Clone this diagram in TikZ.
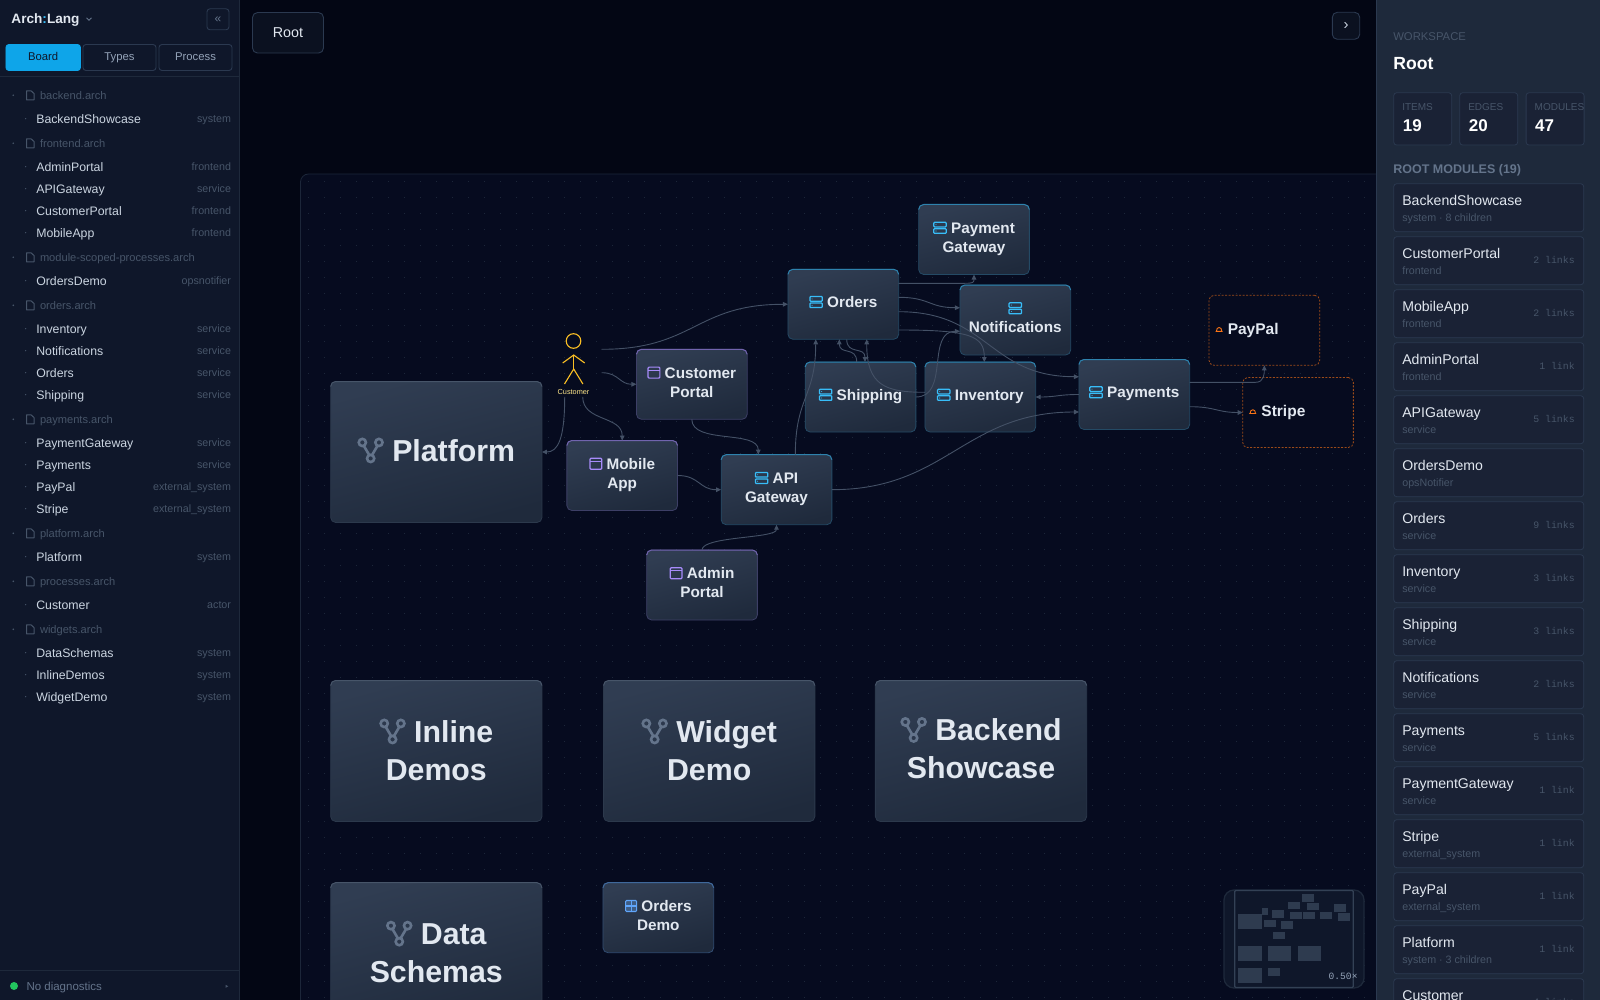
\documentclass[tikz,border=0pt]{standalone}
\usepackage{fontspec}
\setmainfont{Liberation Sans}
\setmonofont{Liberation Mono}
\usetikzlibrary{positioning, arrows.meta, calc}

% palette
\definecolor{sidebg}{HTML}{0F172A}
\definecolor{sideline}{HTML}{1E293B}
\definecolor{canvasbg}{HTML}{030614}
\definecolor{boardbg}{HTML}{060B1F}
\definecolor{griddot}{HTML}{1C2639}
\definecolor{panelbg}{HTML}{1E293B}
\definecolor{cardbg}{HTML}{1A2235}
\definecolor{cardline}{HTML}{2B3950}
\definecolor{btnbg}{HTML}{0B1120}
\definecolor{blocktop}{HTML}{303D52}
\definecolor{blockbot}{HTML}{1F2A3C}
\definecolor{linkline}{HTML}{445166}
\definecolor{slateA}{HTML}{334155}
\definecolor{slateC}{HTML}{475569}
\definecolor{slateD}{HTML}{64748B}
\definecolor{slateE}{HTML}{94A3B8}
\definecolor{slateF}{HTML}{CBD5E1}
\definecolor{slateG}{HTML}{E2E8F0}
\definecolor{skyblue}{HTML}{38BDF8}
\definecolor{tabblue}{HTML}{0EA5E9}
\definecolor{violet}{HTML}{A78BFA}
\definecolor{gridblue}{HTML}{60A5FA}
\definecolor{cloudorange}{HTML}{F97316}
\definecolor{actoramber}{HTML}{FBBF24}
\definecolor{actorpale}{HTML}{FDE68A}
\definecolor{okgreen}{HTML}{22C55E}

\newcommand{\fs}[1]{\fontsize{#1}{#1}\selectfont}

% inline icons
\newcommand{\serviceicon}{\tikz[baseline=0pt,x=1pt,y=1pt]{
    \draw[skyblue, line width=1.25pt, rounded corners=0.8pt] (0,0) rectangle (12.4,4.6);
    \draw[skyblue, line width=1.25pt, rounded corners=0.8pt] (0,6.4) rectangle (12.4,11);
    \fill[skyblue] (2.2,2.3) circle (0.55) (2.2,8.7) circle (0.55);
}}
\newcommand{\windowicon}{\tikz[baseline=0pt,x=1pt,y=1pt]{
    \draw[violet, line width=1.2pt, rounded corners=1pt] (0,0) rectangle (11.8,11);
    \draw[violet, line width=1.2pt] (0,8) -- (11.8,8);
}}
\newcommand{\gridicon}{\tikz[baseline=0pt,x=1pt,y=1pt]{
    \draw[gridblue, fill=gridblue!30!blocktop, line width=1.1pt, rounded corners=1pt] (0,0) rectangle (11,11);
    \draw[gridblue, line width=1.1pt] (5.5,0) -- (5.5,11) (0,5.5) -- (11,5.5);
}}
\newcommand{\forkicon}{\tikz[baseline=2pt,x=1pt,y=1pt]{
    \draw[slateD, line width=2.6pt] (4.7,21) circle (3.6) (21.3,21) circle (3.6) (13,5) circle (3.6);
    \draw[slateD, line width=2.6pt] (6.2,17.6) -- (11.6,8.4) (19.8,17.6) -- (14.4,8.4);
}}
\newcommand{\cloudicon}{\tikz[baseline=-3pt,x=1pt,y=1pt]{
    \draw[cloudorange, line width=0.9pt, line cap=round] (0,0) -- (6.4,0) (0.5,0) .. controls (0.2,5) and (6.2,5) .. (5.9,0);
}}

\begin{document}
\begin{tikzpicture}[
    x=1pt, y=-1pt,
    txt/.style={inner sep=0pt, outer sep=0pt},
    treefile/.style={txt, anchor=mid west, text=slateC, font=\fs{11.1}},
    treeitem/.style={txt, anchor=mid west, text=slateF, font=\fs{12.3}},
    treekind/.style={txt, anchor=mid east, text=slateC, font=\fs{10.7}},
    tabbox/.style={rectangle, rounded corners=3pt, draw=cardline, line width=0.9pt, fill=sidebg,
        minimum width=73pt, minimum height=26pt, inner sep=0pt, text height=8.4pt, text depth=2.6pt,
        text=slateE, font=\fs{11.3}},
    ghostbtn/.style={rectangle, rounded corners=5pt, draw=cardline, line width=0.9pt, fill=btnbg,
        inner sep=0pt, text=slateG},
    block/.style={rectangle, rounded corners=5pt, outer sep=0pt, inner sep=0pt, align=center,
        minimum width=110.7pt, minimum height=70pt, text=slateG, text depth=5pt,
        top color=blocktop, bottom color=blockbot, shading angle=15,
        font=\bfseries\fontsize{15.3}{19}\selectfont},
    service/.style={block, draw=skyblue!22!blockbot, line width=0.8pt},
    frontend/.style={block, draw=violet!22!blockbot, line width=0.8pt},
    demo/.style={block, draw=gridblue!28!blockbot, line width=0.8pt},
    system/.style={block, draw=slateA!65!blockbot, line width=0.8pt, minimum width=211.3pt, minimum height=141pt,
        text depth=3pt, font=\bfseries\fontsize{30.3}{38}\selectfont},
    external/.style={rectangle, rounded corners=5pt, outer sep=0pt, inner xsep=6.5pt, inner ysep=0pt,
        minimum height=70pt, text width=97.7pt, align=left, fill=boardbg, text=slateG,
        draw=cloudorange!62!boardbg, line width=0.8pt, dash pattern=on 2pt off 1.5pt,
        font=\bfseries\fs{15.5}},
    accent/.style={line width=1pt, rounded corners=5pt},
    arrow/.style={draw=linkline, line width=0.9pt, -{Stealth[length=5pt, width=4.6pt, inset=0pt]}},
    statbox/.style={rectangle, rounded corners=3pt, draw=cardline, line width=0.8pt, fill=cardbg,
        minimum width=58pt, minimum height=52.4pt, inner sep=0pt},
    cardbox/.style={rectangle, rounded corners=3pt, draw=cardline, line width=0.8pt, fill=cardbg,
        minimum width=190pt, minimum height=48pt, inner sep=0pt},
    cardname/.style={txt, anchor=mid west, text=slateG, font=\fs{14.1}},
    cardsub/.style={txt, anchor=mid west, text=slateC, font=\fs{10.7}},
    cardlinks/.style={txt, anchor=mid east, text=slateC, font=\ttfamily\fs{9.85}},
    statlabel/.style={txt, anchor=mid west, text=slateC, font=\fs{10}},
    statnum/.style={txt, anchor=mid west, text=white, font=\bfseries\fs{17}},
    mini/.style={fill=slateA!85!sidebg}
]

\useasboundingbox (0,0) rectangle (1600,1000);
\clip (0,0) rectangle (1600,1000);

% === Canvas ===
\fill[canvasbg] (0,0) rectangle (1600,1000);
\filldraw[boardbg, draw=griddot, line width=0.8pt, rounded corners=8pt] (300.5,174) rectangle (1420,1040);
\foreach \gx in {0,...,66}
    \foreach \gy in {0,...,51}
        \fill[griddot] ({308.3+16*\gx-0.5},{181.7+16*\gy-0.5}) rectangle ++(1,1);

% === Module blocks ===
\node[system, text depth=5pt] (platform) at (436.3,452) {\forkicon\ Platform};
\node[system] (inline) at (436.3,751) {\forkicon\ Inline\\Demos};
\node[system] (widget) at (709.2,751) {\forkicon\ Widget\\Demo};
\node[system, text depth=6pt] (backend) at (981,751) {\forkicon\ Backend\\Showcase};
\node[system] (schemas) at (436.3,953.2) {\forkicon\ Data\\Schemas};
\node[demo] (ordersdemo) at (658.3,917.7) {\gridicon\ Orders\\Demo};

\node[frontend] (custportal) at (691.8,384.3) {\windowicon\ Customer\\Portal};
\node[frontend] (mobileapp) at (622.2,475.5) {\windowicon\ Mobile\\App};
\node[frontend] (adminportal) at (702,585) {\windowicon\ Admin\\Portal};

\node[service] (apigateway) at (776.5,489.7) {\serviceicon\ API\\Gateway};
\node[service] (orders) at (843.3,304.3) {\serviceicon\ Orders};
\node[service] (shipping) at (860.5,397) {\serviceicon\ Shipping};
\node[service] (inventory) at (980.3,397) {\serviceicon\ Inventory};
\node[service] (paygateway) at (974,239.5) {\serviceicon\ Payment\\Gateway};
\node[service] (notifications) at (1015.3,320) {\serviceicon\\Notifications};
\node[service] (payments) at (1134.3,394.5) {\serviceicon\ Payments};

\node[external] (paypal) at (1264.3,330.3) {\cloudicon\hspace{5pt}PayPal};
\node[external] (stripe) at (1298,412.5) {\cloudicon\hspace{5pt}Stripe};

% top edges of the blocks
\foreach \n in {apigateway,orders,shipping,inventory,paygateway,notifications,payments}
    \draw[accent, skyblue!60!blockbot] ([yshift=-5pt]\n.north west) -- (\n.north west) -- (\n.north east) -- ([yshift=-5pt]\n.north east);
\foreach \n in {custportal,mobileapp,adminportal}
    \draw[accent, violet!60!blockbot] ([yshift=-5pt]\n.north west) -- (\n.north west) -- (\n.north east) -- ([yshift=-5pt]\n.north east);
\foreach \n in {platform,inline,widget,backend,schemas}
    \draw[accent, slateC] ([yshift=-5pt]\n.north west) -- (\n.north west) -- (\n.north east) -- ([yshift=-5pt]\n.north east);
\draw[accent, gridblue!50!blockbot] ([yshift=-5pt]ordersdemo.north west) -- (ordersdemo.north west) -- (ordersdemo.north east) -- ([yshift=-5pt]ordersdemo.north east);

% === Actor ===
\node[rectangle, minimum width=56pt, minimum height=67pt, inner sep=0pt, outer sep=0pt] (customer) at (573.7,363.3) {};
\begin{scope}[shift={(customer.center)}, actoramber, line width=1.1pt]
    \draw (-0.2,-22.3) circle (7.3);
    \draw (0,-8.3) -- (0,5.7);
    \draw (-11,-0.3) -- (0,-8.3) -- (11,-0.3);
    \draw (-9.2,20.7) -- (0,5.7) -- (9.2,20.7);
\end{scope}
\node[txt, anchor=mid, text=actorpale, font=\fs{7.3}] (custlabel) at (573.5,391.5) {Customer};

% === Connectors ===
\draw[arrow] ($(customer.east)+(0,-14)$) .. controls +(93,0) and +(-93,0) .. (orders.west);
\draw[arrow] ($(customer.east)+(0,9.4)$) .. controls +(17,0) and +(-17,0) .. (custportal.west);
\draw[arrow] ($(customer.south)+(9,0)$) .. controls +(0,25) and +(0,-25) .. (mobileapp.north);
\draw[arrow] ($(customer.south)+(-9,0)$) .. controls +(0,42) and +(16,0) .. (platform.east);
\draw[arrow] (custportal.south) .. controls +(0,25) and +(0,-25) .. ($(apigateway.north)+(-18.2,0)$);
\draw[arrow] (mobileapp.east) .. controls +(22,0) and +(-22,0) .. (apigateway.west);
\draw[arrow] ($(apigateway.north)+(18.8,0)$) .. controls +(0,-58) and +(0,58) .. ($(orders.south)+(-27.6,0)$);
\draw[arrow] (apigateway.east) .. controls +(115,0) and +(-115,0) .. ($(payments.west)+(0,17.5)$);
\draw[arrow] (adminportal.north) .. controls +(0,-14) and +(0,14) .. (apigateway.south);
\draw[arrow] ($(orders.east)+(0,-21)$) -- ++(66,0) .. controls +(8.6,0) and +(0,8) .. (paygateway.south);
\draw[arrow] ($(orders.east)+(0,-7)$) .. controls +(31,0) and +(-31,0) .. ($(notifications.west)+(0,-12.3)$);
\draw[arrow] ($(orders.east)+(0,7.4)$) .. controls +(90,0) and +(-90,0) .. ($(payments.west)+(0,-17.8)$);
\draw[arrow] ($(orders.east)+(0,25.7)$) .. controls +(72,0) and +(0,-26) .. ($(inventory.north)+(4,0)$);
\draw[arrow] ($(shipping.north)+(-3.8,0)$) .. controls +(0,-16) and +(0,16) .. ($(orders.south)+(-4,0)$);
\draw[arrow] ($(orders.south)+(3.4,0)$) .. controls +(0,16) and +(0,-16) .. ($(shipping.north)+(4.5,0)$);
\draw[arrow] ($(inventory.west)+(0,-4.7)$) .. controls +(-40,0) and +(0,46) .. ($(orders.south)+(23.4,0)$);
\draw[arrow] (shipping.east) .. controls +(34,0) and +(-34,0) .. ($(notifications.west)+(0,11.3)$);
\draw[arrow] (payments.west) .. controls +(-21,0) and +(21,0) .. (inventory.east);
\draw[arrow] ($(payments.east)+(0,-12.2)$) -- ++(66,0) .. controls +(8.6,0) and +(0,8) .. (paypal.south);
\draw[arrow] ($(payments.east)+(0,12.2)$) .. controls +(26,0) and +(-26,0) .. (stripe.west);

% === Canvas buttons ===
\node[ghostbtn, minimum width=71pt, minimum height=40.5pt, font=\fs{14.3}] (rootbtn) at (288,32.8) {Root};
\node[ghostbtn, minimum width=27.4pt, minimum height=27pt, text=slateF, font=\fs{15}] (expandbtn) at (1346,25.8) {›};

% === Minimap ===
\filldraw[sidebg, draw=sideline, line width=1.3pt, rounded corners=10pt] (1224,890) rectangle (1364,988);
\begin{scope}[shift={(1200,860)}, x=0.3333pt, y=-0.3333pt]
    \foreach \xa/\ya/\xb/\yb in {115/162/185/207, 185/143/203/164, 215/151/251/173, 192/180/229/202,
        242/184/279/207, 218/216/254/238, 265/125/301/147, 271/155/307/177, 309/155/345/177,
        321/129/357/151, 307/103/343/125, 360/155/396/177, 403/133/439/155, 413/160/449/182,
        115/259/185/304, 204/259/273/304, 293/259/362/304, 115/325/185/370, 204/325/240/347}
        \fill[mini] (\xa,\ya) rectangle (\xb,\yb);
\end{scope}
\draw[slateA, line width=1.3pt, rounded corners=1pt] (1234.7,890.5) rectangle (1353.3,987.5);
\node[txt, anchor=mid east, text=slateE, font=\ttfamily\fs{9.6}] (zoomlabel) at (1357.5,977) {0.50×};

% === Left sidebar ===
\fill[sidebg] (0,0) rectangle (239.3,1000);
\draw[sideline, line width=1pt] (239.5,0) -- (239.5,1000);
\node[txt, anchor=mid west, text=slateG, font=\bfseries\fs{13.6}] (brand) at (11.5,21) {Arch\textcolor{skyblue}{:}Lang};
\draw[slateD, line width=1pt] (86.5,17.8) -- (89,20.2) -- (91.5,17.8);
\node[ghostbtn, fill=sidebg, rounded corners=3pt, minimum width=22pt, minimum height=21pt, text=slateD, font=\fs{12}] (collapsebtn) at (218,19.3) {«};
\node[tabbox, fill=tabblue, draw=tabblue, text=sidebg, minimum width=74.5pt] (tabboard) at (43.2,57.5) {Board};
\node[tabbox] (tabtypes) at (119.5,57.5) {Types};
\node[tabbox] (tabprocess) at (195.5,57.5) {Process};
\draw[sideline, line width=1pt] (0,76.7) -- (239,76.7);

% file rows
\foreach \y/\name [count=\i] in {95.3/backend.arch, 143.3/frontend.arch, 257.3/module-scoped-processes.arch,
    305.3/orders.arch, 419.3/payments.arch, 533.3/platform.arch, 581.3/processes.arch, 629.3/widgets.arch} {
    \fill[slateC] (13.3,\y) circle (0.9);
    \draw[slateC, line width=1pt, line join=round] (26.5,\y-4.5) -- (31,\y-4.5) -- (34,\y-1.8) -- (34,\y+4.5) -- (26.5,\y+4.5) -- cycle;
    \node[treefile] (file\i) at (40,\y+1.8) {\name};
}

% item rows
\foreach \y/\name/\kind [count=\i] in {118.7/BackendShowcase/system, 166.7/AdminPortal/frontend, 188.7/APIGateway/service,
    210.7/CustomerPortal/frontend, 232.7/MobileApp/frontend, 280.7/OrdersDemo/opsnotifier, 328.7/Inventory/service,
    350.7/Notifications/service, 372.7/Orders/service, 394.7/Shipping/service, 442.7/PaymentGateway/service,
    464.7/Payments/service, 486.7/PayPal/external\_system, 508.7/Stripe/external\_system, 556.7/Platform/system,
    604.7/Customer/actor, 652.7/DataSchemas/system, 674.7/InlineDemos/system, 696.7/WidgetDemo/system} {
    \fill[slateC] (25.7,\y) circle (0.7);
    \node[treeitem] (item\i) at (36.3,\y+1.8) {\name};
    \node[treekind] (kind\i) at (231,\y+1.3) {\kind};
}

% status line
\draw[sideline, line width=1pt] (0,970) -- (239,970);
\fill[okgreen] (14,986) circle (4);
\node[txt, anchor=mid west, text=slateD, font=\fs{11.5}] (status) at (26.5,988) {No diagnostics};
\fill[slateC] (225.5,984.8) -- (228.3,986.3) -- (225.5,987.8) -- cycle;

% === Right panel ===
\fill[panelbg] (1376,0) rectangle (1600,1000);
\draw[cardline, line width=1pt] (1376.5,0) -- (1376.5,1000);
\node[txt, anchor=mid west, text=slateC, font=\fs{11.3}] (wslabel) at (1393.3,38) {WORKSPACE};
\node[txt, anchor=mid west, text=white, font=\bfseries\fs{17.6}] (wstitle) at (1393.3,66.5) {Root};

\foreach \xs/\name/\num [count=\i] in {1393.3/ITEMS/19, 1459.3/EDGES/20, 1525.7/MODULES/47} {
    \node[statbox, anchor=north west] (stat\i) at (\xs,92.3) {};
    \node[statlabel] (statname\i) at (\xs+9,107.5) {\name};
    \node[statnum] (statvalue\i) at (\xs+9.5,129) {\num};
}

\node[txt, anchor=mid west, text=slateD, font=\bfseries\fs{12.5}] (rootlabel) at (1393.3,171.2) {ROOT MODULES (19)};

\foreach \name/\sub/\links [count=\k from 0] in {BackendShowcase/system · 8 children/, CustomerPortal/frontend/2 links,
    MobileApp/frontend/2 links, AdminPortal/frontend/1 link, APIGateway/service/5 links, OrdersDemo/opsNotifier/,
    Orders/service/9 links, Inventory/service/3 links, Shipping/service/3 links, Notifications/service/2 links,
    Payments/service/5 links, PaymentGateway/service/1 link, Stripe/external\_system/1 link, PayPal/external\_system/1 link,
    Platform/system · 3 children/1 link, Customer//4 links} {
    \pgfmathsetmacro{\cy}{183.3+53*\k}
    \node[cardbox, anchor=north west] (card\k) at (1393.3,\cy) {};
    \node[cardname] (cardname\k) at (1402.3,\cy+19.2) {\name};
    \node[cardsub] (cardsub\k) at (1402.3,\cy+36) {\sub};
    \node[cardlinks] (cardlinks\k) at (1574.7,\cy+25) {\links};
}

\end{tikzpicture}
\end{document}
